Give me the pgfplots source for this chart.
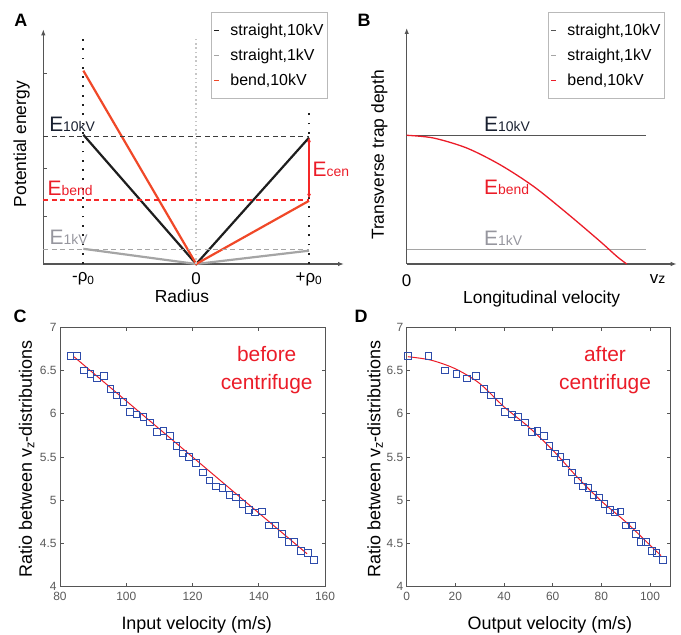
\documentclass[border=0pt]{standalone}
\usepackage{pgfplots}
\pgfplotsset{compat=1.18}
\usetikzlibrary{arrows.meta}
\usepackage{fontspec}
\setmainfont{Liberation Sans}
\definecolor{lred}{RGB}{240,72,40}
\definecolor{tred}{RGB}{235,28,40}
\definecolor{dkline}{RGB}{30,30,30}
\definecolor{gline}{RGB}{165,165,165}
\definecolor{axgray}{RGB}{85,85,85}
\definecolor{tkgray}{RGB}{90,90,90}
\definecolor{mblue}{RGB}{45,75,170}
\definecolor{lgborder}{RGB}{185,185,185}
\definecolor{elabel}{RGB}{25,32,48}
\definecolor{glabel}{RGB}{150,150,158}
\newcommand{\Elab}[1]{{\fontsize{21}{21}\selectfont E}{\fontsize{14}{14}\selectfont #1}}
\pgfplotsset{
  schem/.style={
    scale only axis,
    axis lines=left,
    axis line style={axgray, line width=1.3bp, -{Latex[length=6bp,width=4.5bp]}},
    xtick style={draw=none},
    ticklabel style={font=\fontsize{17}{17}\selectfont},
    xticklabel style={yshift=-5bp},
    label style={font=\fontsize{17.5}{17.5}\selectfont},
    legend cell align=left,
    legend image code/.code={\draw[##1,line width=1.6bp] (0bp,0bp) -- (5bp,0bp);},
    legend style={anchor=north east, draw=lgborder, line width=1.2bp,
      font=\fontsize{16}{16}\selectfont, inner xsep=2bp, inner ysep=9bp,
      nodes={inner xsep=2bp, inner ysep=2.5bp}, column sep=8.5bp, row sep=7bp},
  },
  cd/.style={
    scale only axis,
    axis line style={axgray, line width=0.9bp},
    tick style={axgray, line width=0.9bp},
    tick align=inside,
    major tick length=3.5bp,
    ymin=4, ymax=7,
    ytick={4,4.5,5,5.5,6,6.5,7},
    /pgf/number format/assume math mode=true,
    ticklabel style={font=\fontsize{12}{12}\selectfont, text=tkgray},
    xticklabel style={yshift=-2bp},
    label style={font=\fontsize{18}{18}\selectfont},
  },
}
\pgfplotstableread{
vin vout r
83.2 0.5 6.67
85.2 9.0 6.67
87.2 15.6 6.50
89.2 20.5 6.46
91.2 24.8 6.41
93.3 28.4 6.44
95.2 31.8 6.29
97.1 34.7 6.21
99.1 37.8 6.14
101.1 40.3 6.02
103.1 43.2 5.99
105.2 45.8 5.96
107.1 48.6 5.90
109.2 51.4 5.79
111.2 53.7 5.80
113.2 56.3 5.74
115.1 58.6 5.63
117.1 60.8 5.54
119.0 63.2 5.50
121.0 65.5 5.43
123.1 67.9 5.32
125.1 70.3 5.23
127.1 72.5 5.16
129.1 74.7 5.14
131.1 76.7 5.06
133.1 79.0 5.03
135.1 81.2 4.96
137.1 83.6 4.89
138.9 85.6 4.86
141.0 87.9 4.87
143.0 90.0 4.71
145.0 92.5 4.71
147.0 94.1 4.61
149.0 96.3 4.52
150.8 98.4 4.52
152.8 100.7 4.41
154.8 102.7 4.39
156.7 105.2 4.31
}\ratiodata
\begin{document}
\begin{tikzpicture}
\path[use as bounding box] (0,0) rectangle (681bp,635bp);
% ---------------- Panel A ----------------
\begin{axis}[schem,
  at={(43.3bp,371bp)}, anchor=south west,
  width=300.7bp, height=234.7bp,
  xmin=-1.355, xmax=1.31, ymin=0, ymax=4.94,
  xtick={-1,0,1}, xticklabels={-ρ\textsubscript{0},0,+ρ\textsubscript{0}},
  ytick={1,2,4}, yticklabels={},
  ytick style={axgray, line width=1bp}, tick align=inside, major tick length=4bp,
  xlabel={Radius}, ylabel={Potential energy},
  xlabel style={at={(axis description cs:0.461,-0.136)}, anchor=center},
  ylabel style={at={(axis description cs:-0.072,0.511)}, anchor=center},
  legend style={at={(axis description cs:0.947,1.074)}},
  clip=false,
]
\addplot[dkline, line width=2.2bp] coordinates {(-1,2.72) (0,0) (1,2.66)};
\addlegendentry{straight,10kV}
\addplot[gline, line width=2.2bp] coordinates {(-1,0.32) (0,0) (1,0.28)};
\addlegendentry{straight,1kV}
\addplot[lred, line width=2.2bp] coordinates {(-1,4.07) (0,0) (1,1.33)};
\addlegendentry{bend,10kV}
% dotted verticals
\addplot[dkline, line width=2bp, dash pattern=on 1.8bp off 7.5bp, forget plot] coordinates {(-1,0) (-1,4.86)};
\addplot[dkline, line width=2bp, dash pattern=on 1.8bp off 7.5bp, forget plot] coordinates {(1,0) (1,3.31)};
\addplot[gray!45, line width=1.5bp, dash pattern=on 1.5bp off 2.8bp, forget plot] coordinates {(0,0) (0,4.79)};
% dashed levels
\addplot[draw={rgb,255:red,60;green,60;blue,60}, line width=1bp, dash pattern=on 5bp off 3.5bp, forget plot] coordinates {(-1.355,2.69) (1,2.69)};
\addplot[draw={rgb,255:red,245;green,40;blue,40}, line width=1.4bp, dash pattern=on 5bp off 3.5bp, forget plot] coordinates {(-1.355,1.35) (1,1.35)};
\addplot[draw=gline, line width=1bp, dash pattern=on 5bp off 3.5bp, forget plot] coordinates {(-1.355,0.295) (1,0.295)};
% centrifugal arrow
\addplot[draw={rgb,255:red,245;green,40;blue,40}, line width=1.2bp, {Latex[length=5bp,width=4bp]}-{Latex[length=5bp,width=4bp]}, forget plot] coordinates {(1,2.67) (1,1.37)};
\node[anchor=base west, inner sep=0pt, text=elabel] at (axis cs:-1.304,2.78) {\Elab{10kV}};
\node[anchor=base west, inner sep=0pt, text=tred] at (axis cs:-1.318,1.45) {\Elab{bend}};
\node[anchor=base west, inner sep=0pt, text=glabel] at (axis cs:-1.30,0.40) {\Elab{1kV}};
\node[anchor=base west, inner sep=0pt, text=tred] at (axis cs:1.03,1.84) {\Elab{cen}};
\end{axis}
% ---------------- Panel B ----------------
\begin{axis}[schem,
  at={(406.7bp,371bp)}, anchor=south west,
  width=270bp, height=236bp,
  xmin=0, xmax=270, ymin=0, ymax=236,
  xtick={0,251}, xticklabels={0,v{\fontsize{14}{14}\selectfont z}},
  ytick=\empty,
  xlabel={Longitudinal velocity}, ylabel={Transverse trap depth},
  xlabel style={at={(axis description cs:0.5,-0.150)}, anchor=center},
  ylabel style={at={(axis description cs:-0.101,0.462)}, anchor=center},
  legend style={at={(axis description cs:0.957,1.068)}},
  clip=false,
]
\addplot[axgray, line width=1.3bp] coordinates {(0,128.3) (239.3,128.3)};
\addlegendentry{straight,10kV}
\addplot[gline, line width=1.3bp] coordinates {(0,14.3) (239.3,14.3)};
\addlegendentry{straight,1kV}
\addplot[tred, line width=1.3bp, smooth] coordinates {(0,128.7) (26.7,126) (60,116) (93.3,99.3) (126.7,77.7) (160,51) (193.3,22.7) (210,7.7) (220,0)};
\addlegendentry{bend,10kV}
\node[anchor=base west, inner sep=0pt, text=elabel] at (axis cs:77.3,132.6) {\Elab{10kV}};
\node[anchor=base west, inner sep=0pt, text=tred] at (axis cs:77.3,69) {\Elab{bend}};
\node[anchor=base west, inner sep=0pt, text=glabel] at (axis cs:77.3,18) {\Elab{1kV}};
\end{axis}
% ---------------- Panel C ----------------
\begin{axis}[cd,
  at={(60bp,48.3bp)}, anchor=south west,
  width=265bp, height=259.4bp,
  xmin=80, xmax=160, xtick={80,100,120,140,160},
  xlabel={Input velocity (m/s)}, ylabel={Ratio between v\textsubscript{z}-distributions},
  xlabel style={at={(axis description cs:0.516,-0.148)}, anchor=center},
  ylabel style={at={(axis description cs:-0.126,0.492)}, anchor=center},
]
\addplot[only marks, mark=square, mark size=3.3bp, mblue, mark options={line width=0.9bp}] table[x=vin, y=r] {\ratiodata};
\addplot[tred, line width=1bp] coordinates {(84.2,6.66) (154.6,4.38)};
\node[anchor=base, text=tred, font=\fontsize{21}{21}\selectfont] at (axis cs:142.4,6.60) {before};
\node[anchor=base, text=tred, font=\fontsize{21}{21}\selectfont] at (axis cs:142.4,6.275) {centrifuge};
\end{axis}
% ---------------- Panel D ----------------
\begin{axis}[cd,
  at={(406.7bp,48.3bp)}, anchor=south west,
  width=263.3bp, height=259.4bp,
  xmin=0, xmax=108.2, xtick={0,20,40,60,80,100},
  xlabel={Output velocity (m/s)}, ylabel={Ratio between v\textsubscript{z}-distributions},
  xlabel style={at={(axis description cs:0.544,-0.148)}, anchor=center},
  ylabel style={at={(axis description cs:-0.120,0.492)}, anchor=center},
]
\addplot[only marks, mark=square, mark size=3.3bp, mblue, mark options={line width=0.9bp}] table[x=vout, y=r] {\ratiodata};
\addplot[tred, line width=1bp, smooth] coordinates {(0.5,6.66) (10,6.62) (20,6.52) (30,6.35) (40,6.08) (50,5.85) (60,5.58) (70,5.27) (80,4.99) (90,4.75) (100,4.48) (104.5,4.36)};
\node[anchor=base, text=tred, font=\fontsize{21}{21}\selectfont] at (axis cs:81.5,6.60) {after};
\node[anchor=base, text=tred, font=\fontsize{21}{21}\selectfont] at (axis cs:81.5,6.275) {centrifuge};
\end{axis}
% panel letters
\node[font=\bfseries\fontsize{18}{18}\selectfont] at (20.8bp,614.7bp) {A};
\node[font=\bfseries\fontsize{18}{18}\selectfont] at (364bp,615bp) {B};
\node[font=\bfseries\fontsize{18}{18}\selectfont] at (20bp,318.5bp) {C};
\node[font=\bfseries\fontsize{18}{18}\selectfont] at (361bp,318.5bp) {D};
\end{tikzpicture}
\end{document}
